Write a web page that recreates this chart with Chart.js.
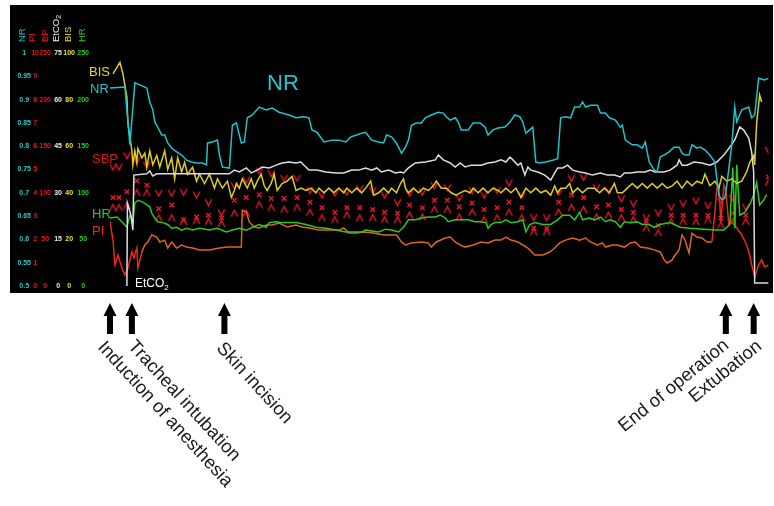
<!DOCTYPE html>
<html><head><meta charset="utf-8">
<script src="https://cdn.jsdelivr.net/npm/chart.js@4.4.1/dist/chart.umd.min.js"></script>
<style>html,body{margin:0;padding:0;background:#fff;}canvas{display:block;}</style>
</head><body>
<canvas id="c" width="774" height="506"></canvas>
<script>
// ---------- DATA (time in minutes from start of record) ----------
const nrT = [0,7.5,10,12.5,16.5,18.5,20,21.5,22.5,24,26,27.5,29,31,33.5,36,38.5,41,43.5,46.5,48.5,49,51.5,54,55,56.5,60,61.5,63.5,66,67.5,69,71.5,75,78.5,81.5,85,90,93.5,97.5,100,101.5,104,107.5,111.5,115,118.5,121,124,126.5,128.5,131.5,135,137.5,139,141.5,143.5,145,146.5,148.5,150,151.5,154,156.5,158.5,161.5,165,167.5,169,171,173.5,175,176.5,180,182.5,186,188.5,190,192.5,195,198.5,201,203.5,206,207.5,209,211,212.5,214,216,219,222.5,225,226.5,229,231.5,233.5,236,237.5,239,241.5,245,246.5,249,251,254,256.5,257.5,259,262.5,265,267.5,269,271,273.5,275,276.5,278.5,281,283.5,286,287.5,289,291,292.5,295,296.5,299,301.5,304,306,307.5,309,310,312.5,314,315,317.5,321,322.5,324,326,329,331];
const nrV = [.925,.927,.803,.936,.929,.925,.895,.878,.852,.841,.824,.824,.807,.796,.788,.781,.770,.766,.764,.764,.760,.807,.809,.813,.781,.755,.753,.845,.850,.807,.809,.861,.867,.884,.878,.882,.873,.867,.861,.863,.861,.835,.830,.809,.813,.813,.809,.820,.824,.828,.830,.813,.809,.807,.824,.820,.809,.798,.785,.798,.813,.845,.850,.850,.861,.867,.873,.871,.863,.856,.861,.852,.835,.835,.850,.850,.841,.824,.835,.839,.841,.852,.867,.863,.852,.828,.835,.841,.766,.764,.766,.770,.773,.861,.863,.861,.884,.884,.895,.884,.888,.888,.871,.871,.861,.856,.841,.845,.813,.803,.803,.796,.809,.766,.749,.745,.777,.781,.788,.798,.798,.785,.781,.781,.803,.796,.798,.792,.781,.766,.695,.685,.689,.717,.803,.884,.852,.878,.884,.861,.867,.946,.942,.946];

const bisT = [1.5,5,6.5,8.5,9,11,11.5,12.5,13.5,14,16,17.5,18.5,20,21.5,23.5,25,27.5,29,31,32.5,34,36,37.5,39,41.5,43.5,45,47.5,50,52.5,54,56.5,59,61,62.5,63.5,65,66.5,69,71,72.5,74,76,77.5,79,81,82.5,84,86.5,89,91.5,93.5,96,98.5,101,103.5,105,107.5,110,112.5,115,117.5,119,121.5,124,126.5,128.5,131,132.5,135,137.5,140,141.5,144,146,147.5,148.5,150,152.5,155,157.5,160,162.5,164,166.5,169,171.5,174,176,178.5,181,182.5,185,187.5,190,192.5,195,196.5,199,201.5,204,206.5,209,211.5,214,216.5,219,221.5,223.5,225,226.5,229,231,232.5,235,237.5,240,243.5,246,248.5,251,253.5,255,257.5,260,262.5,265,267.5,270,272.5,275,277.5,280,282.5,285,287.5,290,292.5,295,297.5,299,301.5,304,306,307.5,310,312.5,315,317.5,320,321.5,323.5,324,325,326.5,327.5];
const bisV = [91,96,91,81,70,58,52,58,53,59,55,57,51,58,52,56,51,58,50,55,46,55,49,53,48,51,45,48,44,48,42,46,42,45,38,41,44,42,46,42,46,42,45,48,43,41,44,48,41,44,45,47,41,42,41,42,40,42,40,42,40,42,40,42,40,42,40,42,45,39,40,42,40,42,40,44,46,42,40,42,40,42,41,43,45,42,42,40,39,40,41,40,42,40,42,40,42,41,40,42,40,42,38,42,40,42,40,41,39,43,40,42,42,44,40,42,40,42,42,40,42,40,44,40,40,42,44,42,44,42,44,42,44,42,43,45,42,45,43,45,44,48,43,45,42,47,45,46,44,45,49,53,56,52,70,82,79];

const etT = [8.5,8.75,10.5,11.5,12,18.5,20,21.5,23.5,60,62.5,65,68.5,71,74,76.5,80,83.5,86.5,90,93.5,96,97.5,100,104,108.5,113.5,117.5,121.5,125,128.5,131.5,134,136.5,140,143.5,146,147.5,150,153.5,158.5,163.5,165,167.5,171,173.5,176,178.5,181.5,186.5,190,193.5,196.5,199,201,202.5,205,206.5,208.5,210,211.5,215,218.5,221.5,223.5,225,227.5,230,232.5,236,239,242.5,246.5,250,253.5,256.5,258.5,261.5,265,269,271.5,274,278.5,281.5,285,286,287.5,290,293.5,297.5,301.5,305,308.5,311.5,314,316.5,318.5,321,322.5,323.5,324,331];
const etV = [0,26.7,22.9,18.0,35.7,36.1,37.0,35.4,36.1,36.1,37.3,36.7,38.0,36.4,37.3,38.3,38.0,38.9,39.6,39.9,39.6,39.9,38.9,37.3,37.3,36.7,36.4,36.4,37.3,37.3,38.0,37.3,38.0,36.7,37.3,36.4,36.7,36.4,38.0,39.6,39.9,40.6,42.2,40.6,39.6,38.3,39.6,38.3,38.9,38.9,39.6,39.9,40.6,39.9,41.5,40.6,38.9,39.6,35.7,38.3,37.3,36.7,35.7,34.1,36.4,38.0,38.0,38.9,37.3,36.7,36.4,35.7,36.4,35.7,35.7,35.1,36.4,36.4,36.7,36.7,37.3,36.7,36.7,37.3,38.9,40.6,38.9,38.9,39.9,39.6,38.9,39.9,42.2,44.7,47.0,51.2,50.2,47.6,43.1,36.7,1.0,1.0];

const hrT = [0,3.5,6,8.5,10,11.5,12.5,14,16.5,18.5,20,21,22.5,24,26.5,29,31,33.5,36,38.5,41.5,45,50,54,58.5,61.5,65,68.5,71.5,75,78.5,80,83.5,86.5,93.5,98.5,103.5,108.5,113.5,118.5,126.5,128.5,131.5,135,138.5,141.5,145,147.5,150,153.5,156.5,160,163.5,166,168.5,170,173.5,176.5,180,183.5,186.5,189,190,191.5,193.5,196.5,199,201.5,205,207.5,209,211,213.5,217.5,221.5,225,227.5,231,233.5,236,237.5,241,243.5,246.5,249,251.5,254,256.5,258.5,261.5,265,267.5,271,273.5,276.5,281.5,286.5,291.5,298.5,305,308.5,311.5,313,314,315,316.5,319,321.5,323.5,325,326.5,328.5,330];
const hrV = [73,74,69,63,76,69,89,92,90,87,85,78,73,69,68,66,62,63,60,62,60,62,60,62,58,60,62,60,63,66,63,68,69,68,68,66,63,62,60,58,58,60,59,58,61,60,58,63,71,71,73,74,74,76,73,69,71,71,71,69,69,68,62,66,68,68,71,68,69,71,58,66,68,66,66,71,76,76,71,79,71,73,71,74,69,71,69,63,69,68,69,66,66,63,66,68,63,62,61,60,60,66,127,62,130,76,79,87,98,111,87,92,98];

const piT = [0,1.5,2.5,4,6,7.5,9,11,12,13.5,14,16,17.5,19,21,23.5,25,27.5,29,31,33.5,36,38.5,41.5,45,50,55,59,62.5,66,66.5,68.5,70,72.5,75,78.5,81.5,85,89,93.5,96.5,100,105,110,115,117.5,120,124,127.5,132.5,137.5,144,146.5,148.5,151.5,156.5,160,161.5,164,168.5,171,173.5,176,178.5,182.5,186.5,190,193.5,196.5,199,201.5,205,207.5,210,213.5,217.5,221,223.5,226,229,232.5,236,239,241.5,245,247.5,249,252.5,255,258.5,261.5,264,266.5,270,273.5,276.5,278.5,280,282.5,284,286,287.5,289,291,292.5,295,297.5,300,302.5,304,305,306,307,308.5,309.5,311,312.5,315,317.5,320,321.5,322.5,324,326,327.5,329,331];
const piV = [2.75,1.97,0.90,1.33,0.77,0.47,0.77,1.46,1.20,1.63,0.77,1.46,1.76,1.89,2.19,2.10,1.89,1.97,1.63,1.89,1.63,1.76,1.67,1.63,1.55,1.55,1.63,1.67,1.67,1.67,3.26,3.18,2.75,2.53,2.49,2.62,2.62,2.70,2.53,2.62,2.53,2.49,2.40,2.40,2.40,2.49,2.27,2.27,2.32,2.27,2.19,2.19,1.89,1.76,1.85,1.89,1.85,1.67,1.89,2.06,2.10,1.89,1.76,1.67,1.76,1.89,1.85,1.97,1.97,2.10,1.97,1.89,1.76,1.63,1.33,1.33,1.46,1.63,1.85,1.97,2.06,1.97,2.06,1.89,1.76,1.85,1.67,1.76,1.76,1.67,1.85,1.89,1.67,1.63,1.55,1.46,1.12,0.99,1.12,1.33,1.55,2.19,1.97,1.42,2.27,2.10,2.06,1.89,1.89,3.18,4.21,4.33,2.75,4.33,4.12,2.62,2.75,2.49,2.19,1.76,1.33,0.90,0.39,0.90,1.12,0.82,0.90];

const bpT = [1.5,4.5,8.5,13.5,18.5,24.5,31,37,43.5,49.5,56,62.5,68.5,75,81,87.5,94,100.5,106.5,113,119,125.5,132,138,144.5,150.5,157,163,169.5,175.5,182,188,194.5,200.5,207,213,219.5,225.5,232,238,244.5,250.5,257,263,269.5,275.5,282,288,294.5,300.5,307,313,319.5,331];
const bpSys = [128,128,140,135,130,100,100,101,98,90,79,108,114,124,121,116,116,103,98,100,101,105,103,98,90,100,101,108,106,95,103,98,103,111,98,74,74,101,116,117,106,103,94,89,74,79,85,89,92,87,92,95,85,146];
const bpMean = [95,95,101,113,108,83,87,71,74,76,73,92,95,98,94,94,95,90,84,79,84,84,82,79,78,87,84,92,92,85,89,82,84,90,84,62,62,90,98,95,85,87,82,79,69,65,76,76,76,76,73,78,76,117];
const bpDia = [84,84,86,100,100,73,73,69,70,69,67,78,78,87,84,82,84,79,73,71,76,73,73,71,71,76,74,82,82,74,79,71,73,79,73,58,58,79,84,82,74,76,73,71,62,57,69,69,69,71,65,69,69,111];

// axis tick labels shown in each column
const nrTicks = [0.5,0.55,0.6,0.65,0.7,0.75,0.8,0.85,0.9,0.95,1];
const piTicks = [0,1,2,3,4,5,6,7,8,9,10];
const bpTicks = [0,50,100,150,200,250];
const etTicks = [0,15,30,45,60,75];
const bisTicks = [0,20,40,60,80,100];
const hrTicks = [0,50,100,150,200,250];

// events
const eventTimes = [0, 11, 57.5, 309.5, 323.5];
const eventLabels = ['Induction of anesthesia','Tracheal intubation','Skin incision','End of operation','Extubation'];

// ---------- STYLE ----------
const FONT = "'Liberation Sans', Arial, sans-serif";
const C = {nr:'#1ec3cb', bis:'#dccd1e', et:'#dcdce6', hr:'#2cc81e', piO:'#e0641c', piR:'#e8281c', bp:'#ec1430'};
const pts = (t, v) => t.map((x, i) => ({x, y: v[i]}));

function mark(kind){
  const c = document.createElement('canvas'); c.width = 9; c.height = 9;
  const g = c.getContext('2d'); g.strokeStyle = C.bp; g.lineWidth = 1.4; g.beginPath();
  if (kind === 'v') { g.moveTo(1.2,1.5); g.lineTo(4.5,7.8); g.lineTo(7.8,1.5); }
  else { g.moveTo(1.2,7.8); g.lineTo(4.5,1.5); g.lineTo(7.8,7.8); }
  g.stroke(); return c;
}

function yAxis(min, max, step, shown, color, width, pad){
  return {
    type:'linear', position:'left', min, max,
    grid:{display:false, drawTicks:false}, border:{display:false},
    ticks:{stepSize:step, autoSkip:false, color, padding:pad, crossAlign:'center',
      font:{family:FONT, size:7, weight:'bold'},
      callback:(v)=> shown.some(s=>Math.abs(s-v)<1e-6) ? String(Math.round(v*100)/100) : ''},
    afterFit:(s)=>{ s.width = width; }
  };
}

const headers = [
  {text:'NR', x:22, color:C.nr},{text:'PI', x:32, color:'#e01818'},{text:'BP', x:45, color:'#e01818'},
  {text:'EtCO', sub:'2', x:56, color:'#eeeeee'},{text:'BIS', x:68, color:'#e6dc22'},{text:'HR', x:82, color:'#22d022'}
];
const seriesLabels = [
  {text:'BIS', x:89, y:76, color:'#e8d820', size:13},
  {text:'NR', x:90, y:93, color:'#22c6d0', size:13},
  {text:'SBP', x:92, y:163, color:'#d81818', size:13},
  {text:'HR', x:92, y:218, color:'#22d022', size:13},
  {text:'PI', x:92, y:235, color:'#e0301a', size:13},
  {text:'EtCO', sub:'2', x:135, y:287, color:'#ffffff', size:12},
  {text:'NR', x:267, y:90, color:'#22c6d0', size:22}
];
const eventLayout = [
  {dx:-2.5, y:338, ang:47.5, align:'left'},
  {dx:6, y:337, ang:47.5, align:'left'},
  {dx:2, y:339, ang:47.5, align:'left'},
  {dx:-5, y:336, ang:-39, align:'right'},
  {dx:0, y:337, ang:-39, align:'right'}
];

const panel = {
  id:'panel',
  beforeDraw(chart){
    const ctx = chart.ctx; ctx.save();
    ctx.fillStyle = '#fff'; ctx.fillRect(0,0,chart.width,chart.height);
    ctx.fillStyle = '#000'; ctx.fillRect(10,5,763,288);
    ctx.restore();
  },
  afterDraw(chart){
    const ctx = chart.ctx;
    headers.forEach(h=>{
      ctx.save(); ctx.translate(h.x, 42); ctx.rotate(-Math.PI/2);
      ctx.font = `9.5px ${FONT}`; ctx.fillStyle = h.color; ctx.textAlign='left'; ctx.textBaseline='middle';
      ctx.fillText(h.text,0,0);
      if (h.sub){ const w = ctx.measureText(h.text).width; ctx.font = `7px ${FONT}`; ctx.fillText(h.sub, w, 3); }
      ctx.restore();
    });
    seriesLabels.forEach(l=>{
      ctx.save(); ctx.font = `${l.size}px ${FONT}`; ctx.fillStyle = l.color; ctx.textAlign='left'; ctx.textBaseline='alphabetic';
      ctx.fillText(l.text, l.x, l.y);
      if (l.sub){ const w = ctx.measureText(l.text).width; ctx.font = `${Math.round(l.size*0.7)}px ${FONT}`; ctx.fillText(l.sub, l.x+w, l.y+3); }
      ctx.restore();
    });
    const xs = chart.scales.x;
    eventTimes.forEach((t,i)=>{
      const x = xs.getPixelForValue(t);
      ctx.save(); ctx.fillStyle = '#000'; ctx.beginPath();
      ctx.moveTo(x,303); ctx.lineTo(x+6.5,316); ctx.lineTo(x+3,316); ctx.lineTo(x+3,334);
      ctx.lineTo(x-3,334); ctx.lineTo(x-3,316); ctx.lineTo(x-6.5,316); ctx.closePath(); ctx.fill();
      const L = eventLayout[i];
      ctx.translate(x+L.dx, L.y); ctx.rotate(L.ang*Math.PI/180);
      ctx.font = `18.5px ${FONT}`; ctx.fillStyle = '#1a1a1a'; ctx.textAlign = L.align; ctx.textBaseline='top';
      ctx.fillText(eventLabels[i],0,0);
      ctx.restore();
    });
  }
};

const lineDS = (label, data, color, axis, extra={}) => Object.assign({
  label, data, borderColor:color, borderWidth:1.5, pointRadius:0, tension:0, yAxisID:axis, fill:false
}, extra);
const markDS = (label, data, style) => ({
  label, data, showLine:false, yAxisID:'yBP', pointStyle:style, pointRadius:3.2,
  borderColor:C.bp, backgroundColor:C.bp, pointBorderWidth:1.4
});

new Chart(document.getElementById('c'), {
  type:'line',
  data:{ datasets:[
    lineDS('NR', pts(nrT,nrV), C.nr, 'yNR'),
    lineDS('EtCO2', pts(etT,etV), C.et, 'yEt'),
    lineDS('BIS', pts(bisT,bisV), C.bis, 'yBIS'),
    lineDS('HR', pts(hrT,hrV), C.hr, 'yHR'),
    lineDS('PI', pts(piT,piV), C.piO, 'yPI', {segment:{borderColor:(c)=> (c.p0.parsed.x < 16 || c.p0.parsed.x >= 302) ? C.piR : C.piO}}),
    markDS('SBP', pts(bpT,bpSys), mark('v')),
    markDS('MBP', pts(bpT,bpMean), 'crossRot'),
    markDS('DBP', pts(bpT,bpDia), mark('a'))
  ]},
  options:{
    responsive:false, animation:false, events:[],
    layout:{padding:{left:12, right:2, top:53, bottom:220}},
    plugins:{legend:{display:false}, tooltip:{enabled:false}},
    scales:{
      x:{type:'linear', min:0, max:331, display:false},
      yHR: yAxis(0, 250, 25, hrTicks, '#22d022', 35, 21),
      yBIS: yAxis(0, 100, 10, bisTicks, '#e8e022', 13, 0),
      yEt: yAxis(0, 75, 7.5, etTicks, '#e8e8e8', 11, 0),
      yBP: yAxis(0, 250, 25, bpTicks, '#e41818', 12, 0),
      yPI: yAxis(0, 10, 1, piTicks, '#e41818', 8, 0),
      yNR: yAxis(0.5, 1, 0.05, nrTicks, '#22c8c8', 19, 0)
    }
  },
  plugins:[panel]
});
</script>
</body></html>
